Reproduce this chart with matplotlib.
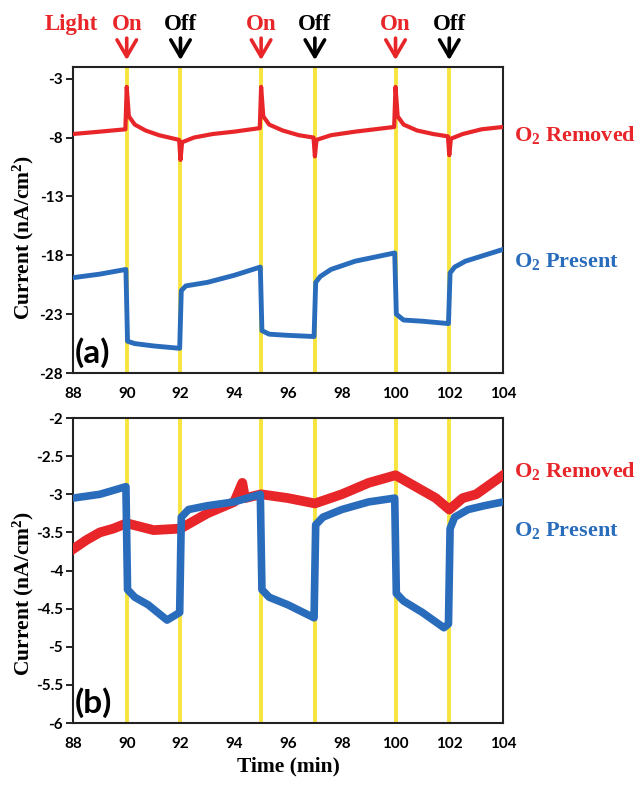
import matplotlib
matplotlib.use("Agg")
import matplotlib.pyplot as plt

plt.rcParams['mathtext.fontset'] = 'custom'
plt.rcParams['mathtext.rm'] = 'Liberation Serif:bold'
plt.rcParams['mathtext.bf'] = 'Liberation Serif:bold'
plt.rcParams['mathtext.it'] = 'Liberation Serif:bold'

RED = '#e8262a'
BLUE = '#2a6cbc'
YELLOW = '#f7e43f'

# light switching times (min)
light_on = [90, 95, 100]
light_off = [92, 97, 102]

# Panel (a)
a_red_t = [88.0, 89.0, 89.95, 90.0, 90.08, 90.3, 90.7, 91.2, 91.95, 92.0, 92.06, 92.5, 93.2, 94.0,
           94.95, 95.0, 95.08, 95.3, 95.8, 96.4, 96.95, 97.0, 97.06, 97.6, 98.5, 99.95, 100.0,
           100.08, 100.3, 100.8, 101.4, 101.95, 102.0, 102.06, 102.5, 103.2, 104.0]
a_red_y = [-7.7, -7.5, -7.3, -3.7, -6.2, -6.9, -7.4, -7.8, -8.2, -9.9, -8.4, -8.0, -7.7, -7.5,
           -7.2, -3.7, -6.2, -6.9, -7.4, -7.8, -8.0, -9.6, -8.2, -7.8, -7.5, -7.1, -3.7,
           -6.2, -6.9, -7.4, -7.7, -7.9, -9.5, -8.1, -7.7, -7.3, -7.1]

a_blue_t = [88.0, 89.0, 89.97, 90.03, 90.3, 91.0, 91.97, 92.03, 92.2, 93.0, 94.0, 94.97, 95.03,
            95.3, 96.0, 96.97, 97.03, 97.2, 97.6, 98.5, 99.97, 100.03, 100.3, 101.0, 101.97,
            102.03, 102.2, 102.6, 103.3, 104.0]
a_blue_y = [-19.9, -19.6, -19.2, -25.3, -25.5, -25.7, -25.9, -21.0, -20.6, -20.3, -19.7, -19.0,
            -24.4, -24.7, -24.8, -24.9, -20.3, -19.8, -19.2, -18.5, -17.8, -23.0, -23.5, -23.6,
            -23.8, -19.5, -19.0, -18.5, -18.0, -17.5]

# Panel (b)
b_red_t = [88.0, 88.5, 89.0, 89.5, 90.0, 91.0, 92.0, 92.5, 93.0, 94.0, 94.3, 94.4, 95.0, 96.0,
           97.0, 98.0, 99.0, 100.0, 101.0, 101.5, 102.0, 102.5, 103.0, 104.0]
b_red_y = [-3.72, -3.6, -3.5, -3.45, -3.38, -3.47, -3.45, -3.35, -3.25, -3.1, -2.85, -3.05, -3.0,
           -3.05, -3.12, -3.0, -2.85, -2.75, -2.95, -3.05, -3.2, -3.05, -3.0, -2.75]

b_blue_t = [88.0, 89.0, 89.97, 90.03, 90.3, 90.8, 91.5, 91.97, 92.03, 92.3, 93.0, 94.0, 94.97,
            95.03, 95.3, 96.0, 96.97, 97.03, 97.3, 98.0, 99.0, 99.97, 100.03, 100.3, 101.0,
            101.8, 101.97, 102.03, 102.2, 102.7, 103.3, 104.0]
b_blue_y = [-3.05, -3.0, -2.9, -4.25, -4.35, -4.45, -4.65, -4.55, -3.3, -3.2, -3.15, -3.1, -3.0,
            -4.25, -4.35, -4.45, -4.62, -3.4, -3.3, -3.2, -3.1, -3.05, -4.3, -4.4, -4.55,
            -4.75, -4.7, -3.45, -3.3, -3.2, -3.15, -3.1]

xticks = [88, 90, 92, 94, 96, 98, 100, 102, 104]
a_yticks = [-28, -23, -18, -13, -8, -3]
b_yticks = [-6, -5.5, -5, -4.5, -4, -3.5, -3, -2.5, -2]

fig = plt.figure(figsize=(6.4, 7.87), dpi=100)
ax1 = fig.add_axes([0.114, 0.526, 0.672, 0.389])
ax2 = fig.add_axes([0.114, 0.0813, 0.672, 0.3875])

tick_font = dict(family='Lato', weight='bold', size=11)
serif_b = dict(family='Liberation Serif', weight='bold')

for ax in (ax1, ax2):
    for t in light_on + light_off:
        ax.axvline(t, color=YELLOW, lw=2.8, zorder=1)
    ax.set_xlim(88, 104)
    ax.set_xticks(xticks)
    ax.set_xticklabels([str(x) for x in xticks], **tick_font)
    ax.tick_params(axis='x', length=0, pad=10)
    ax.tick_params(axis='y', length=5, width=1.2, direction='out', pad=2)
    for s in ax.spines.values():
        s.set_linewidth(1.5)
        s.set_color('#222222')

ax1.plot(a_red_t, a_red_y, color=RED, lw=3.0, zorder=3)
ax1.plot(a_blue_t, a_blue_y, color=BLUE, lw=3.5, zorder=3)
ax1.set_ylim(-28, -2)
ax1.set_yticks(a_yticks)
ax1.set_yticklabels([str(v) for v in a_yticks], **tick_font)
ax1.set_ylabel(r'Current (nA/cm$^{2}$)', fontsize=15.5, **serif_b)
ax1.yaxis.set_label_coords(-0.086, 0.444)
ax1.text(0.004, 0.015, '(a)', transform=ax1.transAxes, fontsize=24, family='Lato',
         weight='bold', ha='left', va='bottom')

ax2.plot(b_red_t, b_red_y, color=RED, lw=7, zorder=3)
ax2.plot(b_blue_t, b_blue_y, color=BLUE, lw=5.5, zorder=4)
ax2.set_ylim(-6, -2)
ax2.set_yticks(b_yticks)
ax2.set_yticklabels([f'{v:g}' for v in b_yticks], **tick_font)
ax2.set_ylabel(r'Current (nA/cm$^{2}$)', fontsize=15.5, **serif_b)
ax2.yaxis.set_label_coords(-0.086, 0.426)
ax2.set_xlabel('Time (min)', fontsize=15.5, labelpad=4, **serif_b)
ax2.text(0.004, 0.015, '(b)', transform=ax2.transAxes, fontsize=24, family='Lato',
         weight='bold', ha='left', va='bottom')

# right-side labels
ax1.text(1.025, -7.8, r'O$_{2}$ Removed', transform=ax1.get_yaxis_transform(), color=RED,
         fontsize=16, va='center', ha='left', **serif_b)
ax1.text(1.025, -18.5, r'O$_{2}$ Present', transform=ax1.get_yaxis_transform(), color=BLUE,
         fontsize=16, va='center', ha='left', **serif_b)
ax2.text(1.025, -2.7, r'O$_{2}$ Removed', transform=ax2.get_yaxis_transform(), color=RED,
         fontsize=16, va='center', ha='left', **serif_b)
ax2.text(1.025, -3.48, r'O$_{2}$ Present', transform=ax2.get_yaxis_transform(), color=BLUE,
         fontsize=16, va='center', ha='left', **serif_b)

# light on/off arrows
trans = ax1.get_xaxis_transform()
astyle = '->,head_length=1.2,head_width=0.7'
for labels, times, col in (('On', light_on, RED), ('Off', light_off, 'black')):
    for t in times:
        ax1.annotate('', xy=(t, 1.013), xytext=(t, 1.103), xycoords=trans, textcoords=trans,
                     arrowprops=dict(arrowstyle=astyle, color=col, lw=2.6),
                     annotation_clip=False)
        ax1.text(t, 1.14, labels, transform=trans, color=col, fontsize=16.5, ha='center',
                 va='center', **serif_b)
ax1.text(87.93, 1.14, 'Light', transform=trans, color=RED, fontsize=16.5, ha='center',
         va='center', **serif_b)

fig.savefig('out.png', dpi=100)
